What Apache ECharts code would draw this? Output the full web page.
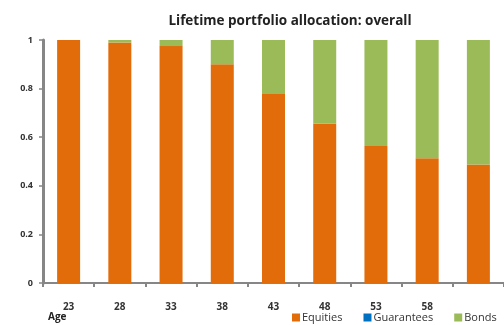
<!DOCTYPE html>
<html>
<head>
<meta charset="utf-8">
<script src="https://cdn.jsdelivr.net/npm/echarts@6/dist/echarts.min.js"></script>
<style>
  html, body { margin: 0; padding: 0; background: #fff; }
  #chart { width: 504px; height: 325px; }
</style>
</head>
<body>
<div id="chart"></div>
<script>
// Age at each rebalancing point
const ages = ['23', '28', '33', '38', '43', '48', '53', '58', '63'];
// Share of the portfolio held in each asset class
const equities   = [1.00, 0.99, 0.975, 0.90, 0.778, 0.655, 0.564, 0.513, 0.488];
const guarantees = [0, 0, 0, 0, 0, 0, 0, 0, 0];
const bonds      = [0.00, 0.01, 0.025, 0.10, 0.222, 0.345, 0.436, 0.487, 0.512];
const yTicks = [0, 0.2, 0.4, 0.6, 0.8, 1];

const chart = echarts.init(document.getElementById('chart'), null, { renderer: 'canvas' });
const font = '"Open Sans", "Liberation Sans", sans-serif';
const axisGrey = '#868686';

chart.setOption({
  animation: false,
  backgroundColor: '#ffffff',
  title: [
    {
      text: 'Lifetime portfolio allocation: overall',
      left: 285, top: 9, textAlign: 'center',
      textStyle: { fontFamily: font, fontSize: 13.5, fontWeight: 'bold', color: '#222' }
    },
    {
      text: 'Age',
      left: 43, top: 307,
      textStyle: { fontFamily: font, fontSize: 10, fontWeight: 'bold', color: '#222' }
    }
  ],
  legend: {
    left: 287, top: 307,
    itemWidth: 8, itemHeight: 8, itemGap: 21,
    icon: 'rect',
    textStyle: { fontFamily: font, fontSize: 11, color: '#333', padding: [0, 0, 0, -3] },
    data: ['Equities', 'Guarantees', 'Bonds']
  },
  grid: { left: 43, top: 40, height: 243, right: -10 },
  xAxis: {
    type: 'category',
    data: ages,
    axisLine: { lineStyle: { color: axisGrey, width: 2 } },
    axisTick: { show: true, length: 4, lineStyle: { color: axisGrey, width: 2 } },
    axisLabel: {
      fontFamily: font, fontSize: 10, fontWeight: 'bold', color: '#333', margin: 19,
      formatter: (v, i) => (i === ages.length - 1 ? '' : v)
    }
  },
  yAxis: {
    type: 'value',
    min: 0, max: 1, interval: 0.2,
    axisLine: { show: true, lineStyle: { color: axisGrey, width: 3 } },
    axisTick: { show: true, length: 4, lineStyle: { color: axisGrey, width: 1.5 } },
    splitLine: { show: false },
    axisLabel: {
      fontFamily: font, fontSize: 9, fontWeight: 'bold', color: '#333', margin: 10,
      formatter: v => (yTicks.includes(+v.toFixed(1)) ? String(+v.toFixed(1)) : '')
    }
  },
  series: [
    { name: 'Equities', type: 'bar', stack: 'alloc', data: equities, barWidth: 23,
      itemStyle: { color: '#E36C0A' } },
    { name: 'Guarantees', type: 'bar', stack: 'alloc', data: guarantees, barWidth: 23,
      itemStyle: { color: '#0070C0' } },
    { name: 'Bonds', type: 'bar', stack: 'alloc', data: bonds, barWidth: 23,
      itemStyle: { color: '#9BBB59' } }
  ]
});
</script>
</body>
</html>
